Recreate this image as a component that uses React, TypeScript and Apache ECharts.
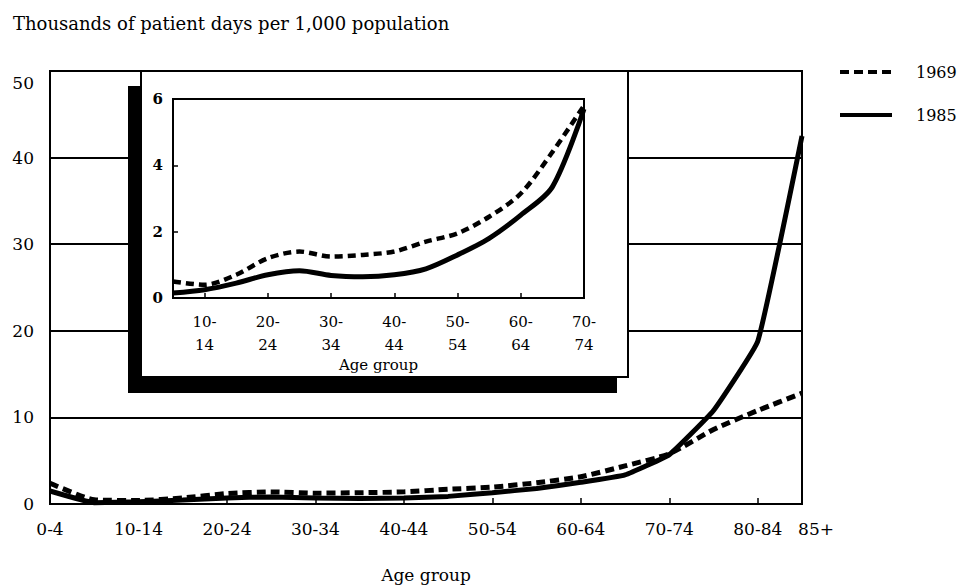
import React, { useEffect, useRef } from "react";
import * as echarts from "echarts";

const ageGroups = [
  "0-4", "5-9", "10-14", "15-19", "20-24", "25-29", "30-34", "35-39", "40-44",
  "45-49", "50-54", "55-59", "60-64", "65-69", "70-74", "75-79", "80-84", "85+",
];
const days1969 = [2.4, 0.5, 0.4, 0.7, 1.2, 1.4, 1.25, 1.3, 1.4, 1.7, 1.95, 2.45, 3.15, 4.4, 5.8, 8.6, 10.8, 12.8];
const days1985 = [1.5, 0.15, 0.25, 0.45, 0.7, 0.82, 0.68, 0.64, 0.7, 0.88, 1.3, 1.8, 2.5, 3.35, 5.7, 10.8, 18.8, 42.5];
const seriesNames = ["1969", "1985"];
const mainYTicks = [0, 10, 20, 30, 40, 50];
const insetYTicks = [0, 2, 4, 6];
// inset covers 5-9 .. 70-74
const insetFrom = 1;
const insetTo = 15;

const FONT = "'DejaVu Serif', 'Liberation Serif', serif";

export default function App() {
  const ref = useRef<HTMLDivElement>(null);

  useEffect(() => {
    if (!ref.current) return;
    const chart = echarts.init(ref.current, null, { renderer: "svg" });
    const insetAges = ageGroups.slice(insetFrom, insetTo);
    const inset1969 = days1969.slice(insetFrom, insetTo);
    const inset1985 = days1985.slice(insetFrom, insetTo);
    const lastIdx = ageGroups.length - 1;

    const option: any = {
      animation: false,
      backgroundColor: "#fff",
      title: {
        text: "Thousands of patient days per 1,000 population",
        left: 8,
        top: 9,
        textStyle: { fontFamily: FONT, fontSize: 18, fontWeight: "normal", color: "#000" },
      },
      legend: {
        data: seriesNames,
        orient: "vertical",
        left: 833,
        top: 59,
        itemWidth: 52,
        itemHeight: 14,
        itemGap: 27,
        lineStyle: { width: 4 },
        itemStyle: { opacity: 0 },
        textStyle: { fontFamily: FONT, fontSize: 16, color: "#000", padding: [0, 0, 0, 19] },
      },
      grid: [
        {
          left: 50, right: 156, top: 71, bottom: 80,
          show: true, borderColor: "#000", borderWidth: 2, z: 0,
        },
        {
          left: 173, right: 374, top: 99, bottom: 290,
          show: true, borderColor: "#000", borderWidth: 2, z: 20,
        },
      ],
      graphic: [
        { type: "rect", z: 10, shape: { x: 128, y: 86, width: 489, height: 307 }, style: { fill: "#000" } },
        { type: "rect", z: 11, shape: { x: 141, y: 71, width: 487, height: 306 }, style: { fill: "#fff", stroke: "#000", lineWidth: 2 } },
      ],
      xAxis: [
        {
          type: "category",
          gridIndex: 0,
          data: ageGroups,
          boundaryGap: false,
          name: "Age group",
          nameLocation: "middle",
          nameGap: 62,
          nameTextStyle: { fontFamily: FONT, fontSize: 17, color: "#000" },
          axisLine: { lineStyle: { color: "#000", width: 2 } },
          axisTick: { inside: true, length: 6, lineStyle: { color: "#000", width: 1.5 } },
          axisLabel: {
            interval: (i: number) => i % 2 === 0 || i === lastIdx,
            margin: 16,
            fontFamily: FONT,
            fontSize: 17,
            color: "#000",
            formatter: (v: string, i: number) => (i === lastIdx ? "{last|" + v + "}" : v),
            rich: { last: { fontFamily: FONT, fontSize: 17, color: "#000", padding: [0, 0, 0, 28] } },
          },
          splitLine: { show: false },
        },
        {
          type: "category",
          gridIndex: 1,
          data: insetAges,
          boundaryGap: false,
          z: 20,
          name: "Age group",
          nameLocation: "middle",
          nameGap: 59,
          nameTextStyle: { fontFamily: FONT, fontSize: 15, color: "#000" },
          axisLine: { lineStyle: { color: "#000", width: 2 } },
          axisTick: { inside: true, length: 5, lineStyle: { color: "#000", width: 1.5 } },
          axisLabel: {
            interval: (i: number) => i % 2 === 1,
            margin: 12,
            fontFamily: FONT,
            fontSize: 15,
            lineHeight: 23,
            color: "#000",
            formatter: (v: string) => v.replace("-", "-\n"),
          },
          splitLine: { show: false },
        },
      ],
      yAxis: [
        {
          type: "value",
          gridIndex: 0,
          min: mainYTicks[0],
          max: mainYTicks[mainYTicks.length - 1],
          interval: mainYTicks[1] - mainYTicks[0],
          axisLine: { show: true, lineStyle: { color: "#000", width: 2 } },
          axisTick: { show: false },
          axisLabel: {
            margin: 16,
            fontFamily: FONT,
            fontSize: 17,
            color: "#000",
            formatter: (v: number) => (v === 50 ? "{top|50}" : String(v)),
            rich: { top: { fontFamily: FONT, fontSize: 17, color: "#000", padding: [24, 0, 0, 0] } },
          },
          splitLine: { show: true, lineStyle: { color: "#000", width: 2 } },
        },
        {
          type: "value",
          gridIndex: 1,
          z: 20,
          min: insetYTicks[0],
          max: insetYTicks[insetYTicks.length - 1],
          interval: insetYTicks[1] - insetYTicks[0],
          axisLine: { show: true, lineStyle: { color: "#000", width: 2 } },
          axisTick: { show: true, inside: true, length: 5, lineStyle: { color: "#000", width: 1.5 } },
          axisLabel: { margin: 10, fontFamily: FONT, fontSize: 15, fontWeight: "bold", color: "#000" },
          splitLine: { show: false },
        },
      ],
      series: [
        {
          name: seriesNames[0],
          type: "line",
          xAxisIndex: 0,
          yAxisIndex: 0,
          data: days1969,
          symbol: "none",
          smooth: 0.2,
          itemStyle: { color: "#000" },
          lineStyle: { color: "#000", width: 5, type: [9, 5] },
          z: 3,
        },
        {
          name: seriesNames[1],
          type: "line",
          xAxisIndex: 0,
          yAxisIndex: 0,
          data: days1985,
          symbol: "none",
          smooth: 0.1,
          itemStyle: { color: "#000" },
          lineStyle: { color: "#000", width: 5, type: "solid" },
          z: 3,
        },
        {
          name: seriesNames[0],
          type: "line",
          xAxisIndex: 1,
          yAxisIndex: 1,
          data: inset1969,
          symbol: "none",
          smooth: 0.3,
          itemStyle: { color: "#000" },
          lineStyle: { color: "#000", width: 4.5, type: [8, 5] },
          z: 21,
        },
        {
          name: seriesNames[1],
          type: "line",
          xAxisIndex: 1,
          yAxisIndex: 1,
          data: inset1985,
          symbol: "none",
          smooth: 0.3,
          itemStyle: { color: "#000" },
          lineStyle: { color: "#000", width: 5, type: "solid" },
          z: 21,
        },
      ],
    };

    chart.setOption(option);
    return () => chart.dispose();
  }, []);

  return <div ref={ref} style={{ width: 958, height: 588, position: "absolute", left: 0, top: 0 }} />;
}
